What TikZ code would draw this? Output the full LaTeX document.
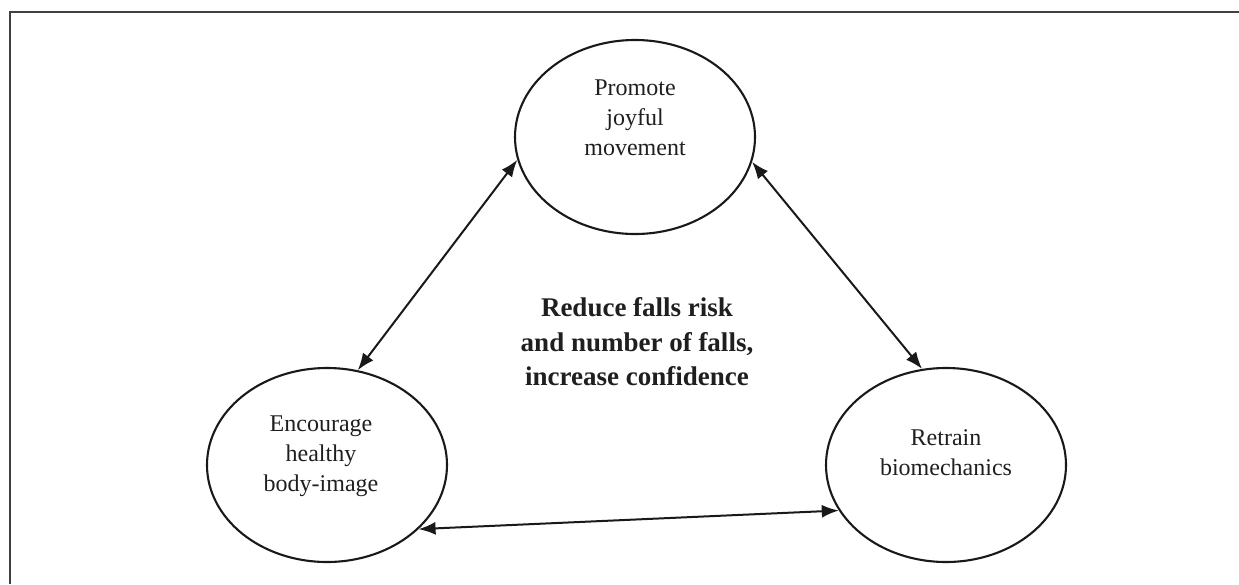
\documentclass[tikz,border=0pt]{standalone}
\usepackage{fontspec}
\setmainfont{Liberation Serif}
\usetikzlibrary{shapes.geometric,arrows.meta}
\begin{document}
\begin{tikzpicture}[x=1pt,y=-1pt,
  goal/.style={draw=black!90,line width=2.1pt,ellipse,minimum width=240pt,minimum height=194pt,inner sep=0pt},
  goaltext/.style={align=center,font=\fontsize{24}{30}\selectfont,text=black!88,inner sep=0pt},
  link/.style={draw=black!90,line width=2pt,{Latex[length=17pt,width=13pt]}-{Latex[length=17pt,width=13pt]}},
  frame/.style={draw=black!75,line width=2pt}]
\useasboundingbox (0,0) rectangle (1239,584);
\coordinate (f1) at (10,584);
\coordinate (f2) at (10,12);
\coordinate (f3) at (1239,12);
\draw[frame] (f1) -- (f2) -- (f3);
\node[goal] (top) at (635,137) {};
\node[goal] (left) at (327,465) {};
\node[goal] (right) at (946,465) {};
\node[goaltext] (topt) at ([yshift=19pt]top.center) {Promote\\joyful\\movement};
\node[goaltext] (leftt) at ([yshift=9pt,xshift=-6pt]left.center) {Encourage\\healthy\\body-image};
\node[goaltext] (rightt) at ([yshift=12pt]right.center) {Retrain\\biomechanics};
\node[align=center,font=\bfseries\fontsize{27}{34.5}\selectfont,text=black!88] (mid) at (637,342) {Reduce falls risk\\and number of falls,\\increase confidence};
\draw[link] (left.72) -- (top.191);
\draw[link] (top.-12) -- (right.104);
\draw[link] (left.-35) -- (right.203);
\end{tikzpicture}
\end{document}
